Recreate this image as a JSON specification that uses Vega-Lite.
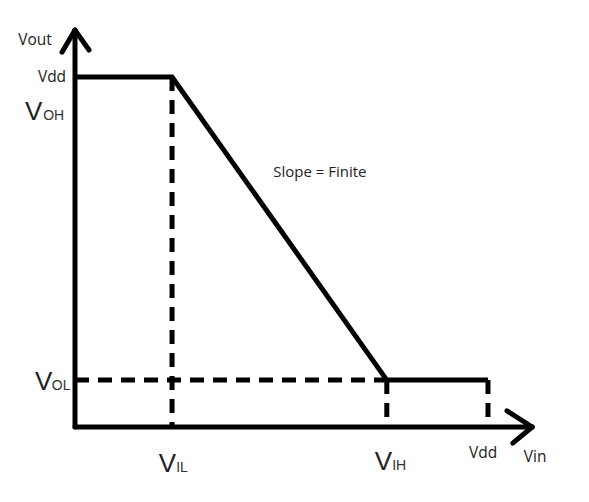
{
  "$schema": "https://vega.github.io/schema/vega-lite/v6.json",
  "width": 589,
  "height": 502,
  "padding": 0,
  "autosize": {"type": "none"},
  "background": "white",
  "view": {"stroke": null},
  "datasets": {
    "axes": [
      {"x": 0, "y": 0, "x2": 0, "y2": 1.134},
      {"x": 0, "y": 0, "x2": 1.107, "y2": 0},
      {"x": 0, "y": 1.134, "x2": -0.0315, "y2": 1.071},
      {"x": 0, "y": 1.134, "x2": 0.034, "y2": 1.077},
      {"x": 1.107, "y": 0, "x2": 1.046, "y2": 0.046},
      {"x": 1.107, "y": 0, "x2": 1.06, "y2": -0.046}
    ],
    "curve": [
      {"vin": 0, "vout": 1, "k": 1},
      {"vin": 0.235, "vout": 1, "k": 2},
      {"vin": 0.755, "vout": 0.134, "k": 3},
      {"vin": 1, "vout": 0.134, "k": 4}
    ],
    "dashes": [
      {"x": 0.235, "y": 1, "x2": 0.235, "y2": 0},
      {"x": 0, "y": 0.134, "x2": 0.755, "y2": 0.134},
      {"x": 0.755, "y": 0.134, "x2": 0.755, "y2": 0},
      {"x": 1, "y": 0.134, "x2": 1, "y2": 0}
    ],
    "bigV": [
      {"x": -0.121, "y": 0.877, "t": "V"},
      {"x": -0.097, "y": 0.106, "t": "V"},
      {"x": 0.203, "y": -0.129, "t": "V"},
      {"x": 0.726, "y": -0.123, "t": "V"}
    ],
    "subs": [
      {"x": -0.077, "y": 0.877, "t": "OH"},
      {"x": -0.056, "y": 0.106, "t": "OL"},
      {"x": 0.245, "y": -0.129, "t": "IL"},
      {"x": 0.768, "y": -0.123, "t": "IH"}
    ],
    "small": [
      {"x": -0.0969, "y": 1.106, "t": "Vout"},
      {"x": -0.0557, "y": 1.0, "t": "Vdd"},
      {"x": 0.988, "y": -0.074, "t": "Vdd"},
      {"x": 1.114, "y": -0.086, "t": "Vin"}
    ],
    "note": [
      {"x": 0.593, "y": 0.729, "t": "Slope = Finite"}
    ]
  },
  "layer": [
    {
      "data": {"name": "axes"},
      "mark": {"type": "rule", "color": "black", "strokeWidth": 5, "strokeCap": "round"},
      "encoding": {
        "x": {"field": "x", "type": "quantitative", "scale": {"domain": [-0.1816, 1.2446], "nice": false, "zero": false}, "axis": null},
        "y": {"field": "y", "type": "quantitative", "scale": {"domain": [-0.2143, 1.22], "nice": false, "zero": false}, "axis": null},
        "x2": {"field": "x2"},
        "y2": {"field": "y2"}
      }
    },
    {
      "data": {"name": "dashes"},
      "mark": {"type": "rule", "color": "black", "strokeWidth": 5, "strokeDash": [14, 9]},
      "encoding": {
        "x": {"field": "x", "type": "quantitative"},
        "y": {"field": "y", "type": "quantitative"},
        "x2": {"field": "x2"},
        "y2": {"field": "y2"}
      }
    },
    {
      "data": {"name": "curve"},
      "mark": {"type": "line", "color": "black", "strokeWidth": 5, "strokeJoin": "miter"},
      "encoding": {
        "x": {"field": "vin", "type": "quantitative"},
        "y": {"field": "vout", "type": "quantitative"},
        "order": {"field": "k"}
      }
    },
    {
      "data": {"name": "bigV"},
      "mark": {"type": "text", "font": "Liberation Sans", "fontSize": 26, "align": "left", "baseline": "alphabetic", "color": "#222222"},
      "encoding": {
        "x": {"field": "x", "type": "quantitative"},
        "y": {"field": "y", "type": "quantitative"},
        "text": {"field": "t"}
      }
    },
    {
      "data": {"name": "subs"},
      "mark": {"type": "text", "font": "Liberation Sans", "fontSize": 14, "align": "left", "baseline": "alphabetic", "color": "#333333"},
      "encoding": {
        "x": {"field": "x", "type": "quantitative"},
        "y": {"field": "y", "type": "quantitative"},
        "text": {"field": "t"}
      }
    },
    {
      "data": {"name": "small"},
      "mark": {"type": "text", "font": "Open Sans", "fontSize": 15.5, "align": "center", "baseline": "middle", "color": "#222222"},
      "encoding": {
        "x": {"field": "x", "type": "quantitative"},
        "y": {"field": "y", "type": "quantitative"},
        "text": {"field": "t"}
      }
    },
    {
      "data": {"name": "note"},
      "mark": {"type": "text", "font": "Open Sans", "fontSize": 15, "align": "center", "baseline": "middle", "color": "#222222"},
      "encoding": {
        "x": {"field": "x", "type": "quantitative"},
        "y": {"field": "y", "type": "quantitative"},
        "text": {"field": "t"}
      }
    }
  ]
}
